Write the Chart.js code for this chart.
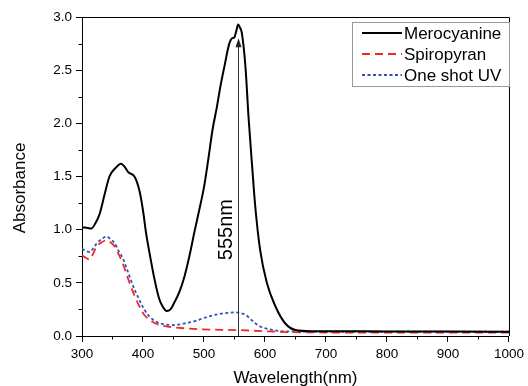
<!DOCTYPE html>
<html>
<head>
<meta charset="utf-8">
<script src="https://cdn.jsdelivr.net/npm/chart.js@4/dist/chart.umd.min.js"></script>
<style>
  html, body { margin: 0; padding: 0; background: #fff; }
  #wrap { width: 528px; height: 386px; }
</style>
</head>
<body>
<div id="wrap"><canvas id="myChart" width="528" height="386"></canvas></div>
<script>
// data
const merWl = [300, 305, 315, 322, 329, 337, 345, 355, 364, 370, 376, 386, 394, 400, 405, 412, 419, 426, 432, 439, 445, 451, 460, 468, 476, 484, 492, 500, 507, 514, 521, 527, 534, 541, 546, 550, 553, 556, 559, 562, 568, 573, 579, 584, 592, 603, 617, 633, 650, 676, 700, 800, 900, 1000];
const merAbs = [1.02, 1.02, 1.01, 1.06, 1.15, 1.33, 1.50, 1.58, 1.62, 1.59, 1.54, 1.50, 1.37, 1.18, 0.97, 0.74, 0.53, 0.36, 0.28, 0.235, 0.25, 0.31, 0.42, 0.56, 0.75, 0.97, 1.18, 1.40, 1.66, 1.94, 2.15, 2.35, 2.55, 2.74, 2.80, 2.81, 2.87, 2.93, 2.90, 2.85, 2.53, 2.06, 1.59, 1.22, 0.81, 0.50, 0.28, 0.12, 0.056, 0.045, 0.045, 0.043, 0.042, 0.04];

const spiroWl = [300, 305, 312, 318, 324, 332, 340, 347, 354, 360, 367, 373, 378, 386, 394, 402, 411, 420, 427, 440, 449, 475, 498, 530, 552, 580, 620, 660, 700, 800, 900, 1000];
const spiroAbs = [0.76, 0.74, 0.72, 0.77, 0.84, 0.88, 0.90, 0.88, 0.84, 0.77, 0.68, 0.58, 0.50, 0.38, 0.28, 0.20, 0.15, 0.12, 0.103, 0.088, 0.082, 0.07, 0.063, 0.058, 0.056, 0.05, 0.04, 0.035, 0.033, 0.031, 0.031, 0.031];

const uvWl = [300, 306, 313, 318, 324, 332, 340, 347, 354, 360, 367, 373, 378, 386, 394, 402, 411, 420, 427, 438, 449, 470, 485, 498, 512, 525, 540, 552, 560, 568, 576, 584, 592, 601, 612, 622, 650, 700, 800, 900, 1000];
const uvAbs = [0.82, 0.80, 0.79, 0.82, 0.87, 0.91, 0.935, 0.91, 0.87, 0.80, 0.73, 0.64, 0.56, 0.44, 0.34, 0.25, 0.18, 0.14, 0.12, 0.107, 0.103, 0.12, 0.14, 0.166, 0.19, 0.207, 0.218, 0.223, 0.215, 0.20, 0.16, 0.12, 0.09, 0.072, 0.058, 0.047, 0.042, 0.04, 0.04, 0.04, 0.04];

const seriesNames = ["Merocyanine", "Spiropyran", "One shot UV"];
const arrowWl = 555;
const arrowTop = 2.8;
const arrowLabel = "555nm";

const font = "'Liberation Sans', Arial, sans-serif";

function toPoints(xs, ys) {
  return xs.map((x, i) => ({ x: x, y: ys[i] }));
}

// top/right frame, minor ticks, arrow, legend, y title
const extras = {
  id: "extras",
  afterDraw(chart) {
    const ctx = chart.ctx;
    const area = chart.chartArea;
    const x = chart.scales.x;
    const y = chart.scales.y;
    ctx.save();

    ctx.strokeStyle = "#000";
    ctx.lineWidth = 1;
    ctx.beginPath();
    ctx.moveTo(area.left, area.top + 0.5);
    ctx.lineTo(area.right + 0.5, area.top + 0.5);
    ctx.lineTo(area.right + 0.5, area.bottom);
    ctx.stroke();

    // minor ticks
    ctx.beginPath();
    for (let v = 350; v < 1000; v += 100) {
      const px = Math.round(x.getPixelForValue(v)) + 0.5;
      ctx.moveTo(px, area.bottom);
      ctx.lineTo(px, area.bottom + 3.5);
    }
    for (let v = 0.25; v < 3; v += 0.5) {
      const py = Math.round(y.getPixelForValue(v)) + 0.5;
      ctx.moveTo(area.left, py);
      ctx.lineTo(area.left - 3.5, py);
    }
    ctx.stroke();

    // arrow at 555 nm
    const ax = Math.round(x.getPixelForValue(arrowWl)) + 0.5;
    const ay0 = y.getPixelForValue(0);
    const ay1 = y.getPixelForValue(arrowTop);
    ctx.strokeStyle = "#333";
    ctx.fillStyle = "#222";
    ctx.beginPath();
    ctx.moveTo(ax, ay0);
    ctx.lineTo(ax, ay1 + 6);
    ctx.stroke();
    ctx.beginPath();
    ctx.moveTo(ax, ay1);
    ctx.lineTo(ax - 3, ay1 + 9);
    ctx.lineTo(ax + 3, ay1 + 9);
    ctx.closePath();
    ctx.fill();

    ctx.fillStyle = "#000";
    ctx.font = "20px " + font;
    ctx.textAlign = "center";
    ctx.textBaseline = "middle";
    ctx.translate(ax - 12, y.getPixelForValue(1.0));
    ctx.rotate(-Math.PI / 2);
    ctx.fillText(arrowLabel, 0, 0);
    ctx.setTransform(1, 0, 0, 1, 0, 0);

    // y axis title
    ctx.font = "17px " + font;
    ctx.translate(20, 188);
    ctx.rotate(-Math.PI / 2);
    ctx.fillText("Absorbance", 0, 0);
    ctx.setTransform(1, 0, 0, 1, 0, 0);

    // legend
    const bx = 352, by = 22, bw = 157, bh = 64;
    ctx.fillStyle = "#fff";
    ctx.fillRect(bx, by, bw, bh);
    ctx.strokeStyle = "#999";
    ctx.lineWidth = 1;
    ctx.strokeRect(bx + 0.5, by + 0.5, bw, bh);
    ctx.font = "17px " + font;
    ctx.textAlign = "left";
    chart.data.datasets.forEach((ds, i) => {
      const ly = by + 11 + i * 21;
      ctx.strokeStyle = ds.borderColor;
      ctx.lineWidth = ds.borderWidth;
      ctx.setLineDash(ds.borderDash || []);
      ctx.beginPath();
      ctx.moveTo(362, ly);
      ctx.lineTo(402, ly);
      ctx.stroke();
      ctx.setLineDash([]);
      ctx.fillStyle = "#000";
      ctx.fillText(ds.label, 404, ly + 1);
    });

    ctx.restore();
  }
};

new Chart(document.getElementById("myChart"), {
  type: "line",
  data: {
    datasets: [
      {
        label: seriesNames[0],
        data: toPoints(merWl, merAbs),
        borderColor: "#000000",
        borderWidth: 2,
        pointRadius: 0,
        cubicInterpolationMode: "monotone",
      },
      {
        label: seriesNames[1],
        data: toPoints(spiroWl, spiroAbs),
        borderColor: "#ee2a24",
        borderWidth: 1.8,
        borderDash: [8, 5],
        pointRadius: 0,
        cubicInterpolationMode: "monotone",
      },
      {
        label: seriesNames[2],
        data: toPoints(uvWl, uvAbs),
        borderColor: "#3552b8",
        borderWidth: 1.8,
        borderDash: [3, 2.5],
        pointRadius: 0,
        cubicInterpolationMode: "monotone",
      },
    ],
  },
  options: {
    responsive: false,
    animation: false,
    layout: { padding: { left: 0, top: 17, right: 16, bottom: 0 } },
    plugins: { legend: { display: false }, tooltip: { enabled: false } },
    scales: {
      x: {
        type: "linear",
        min: 300,
        max: 1000,
        afterFit: (s) => { s.height = 50; },
        ticks: {
          stepSize: 100,
          color: "#000",
          padding: 4,
          maxRotation: 0,
          font: { family: font, size: 13.5 },
          callback: (v) => String(v),
        },
        grid: { drawOnChartArea: false, tickLength: 6, color: "#000" },
        border: { color: "#000", width: 1 },
        title: {
          display: true,
          text: "Wavelength(nm)",
          color: "#000",
          font: { family: font, size: 17 },
          padding: { top: 0, bottom: -3 },
        },
      },
      y: {
        min: 0,
        max: 3,
        afterFit: (s) => { s.width = 82; },
        ticks: {
          stepSize: 0.5,
          color: "#000",
          padding: 4,
          font: { family: font, size: 13.5 },
          callback: (v) => v.toFixed(1),
        },
        grid: { drawOnChartArea: false, tickLength: 6, color: "#000" },
        border: { color: "#000", width: 1 },
      },
    },
  },
  plugins: [extras],
});
</script>
</body>
</html>
